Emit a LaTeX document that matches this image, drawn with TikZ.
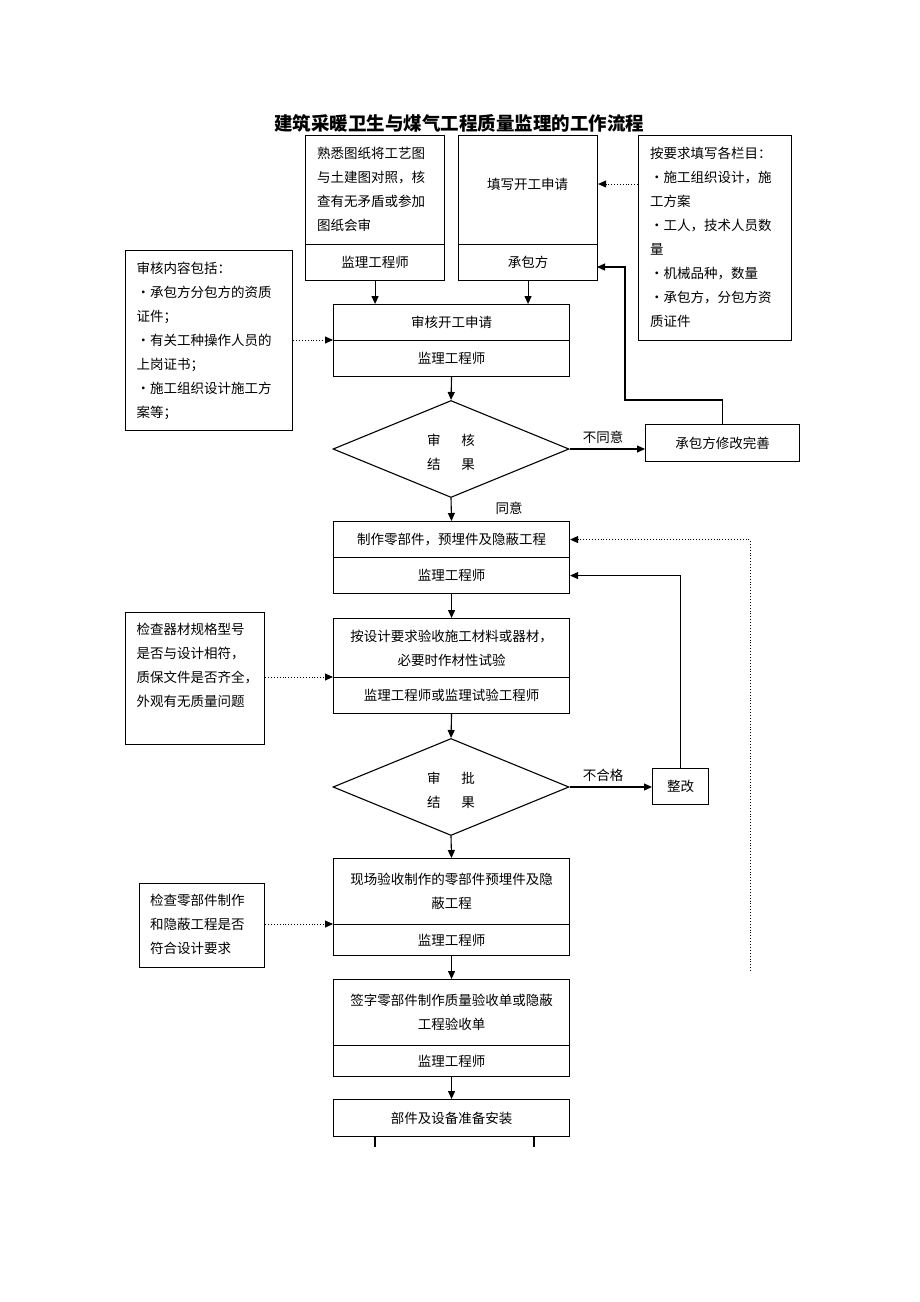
\documentclass[tikz,border=0pt]{standalone}
\usepackage{fontspec}
\newfontfamily\cjk{Noto Sans CJK SC}
\usetikzlibrary{arrows.meta,shapes.geometric}

\tikzset{
  box/.style={draw, line width=1.1pt, inner sep=0pt, anchor=north west, align=center,
    font=\cjk\fontsize{13.5}{24}\selectfont},
  txt/.style={inner sep=0pt, anchor=north west, align=left,
    font=\cjk\fontsize{13.5}{24}\selectfont},
  lbl/.style={inner sep=0pt, align=center, font=\cjk\fontsize{13.5}{24}\selectfont},
  judge/.style={draw, diamond, line width=1.1pt, inner sep=0pt,
    minimum width=236pt, minimum height=97pt},
  flow/.style={line width=1.1pt, -{Triangle[length=8pt,width=7pt]}},
  hint/.style={dotted, line width=0.9pt, -{Triangle[length=8pt,width=7pt]}}
}

\begin{document}
\begin{tikzpicture}[x=1pt,y=-1pt]

% 背景
\fill[white] (0,0) rectangle (920,1302);

% 标题
\node[font=\cjk\bfseries\fontsize{18.5}{20}\selectfont] (title) at (459,123) {建筑采暖卫生与煤气工程质量监理的工作流程};

% 上方三个框
\node[box, minimum width=139pt, minimum height=109pt] (fam) at (305,135) {};
\node[txt] (famTxt) at (317,147) {熟悉图纸将工艺图\\与土建图对照，核\\查有无矛盾或参加\\图纸会审};
\node[box, minimum width=139pt, minimum height=36pt] (famE) at (305,244) {监理工程师};

\node[box, minimum width=139pt, minimum height=109pt] (app) at (458,135) {};
\node[lbl] (appTxt) at (527.5,184) {填写开工申请};
\node[box, minimum width=139pt, minimum height=36pt] (appE) at (458,244) {承包方};

\node[box, minimum width=153pt, minimum height=205pt] (req) at (638,135) {};
\node[txt] (reqTxt) at (650,147) {按要求填写各栏目：\\•施工组织设计，施\\工方案\\•工人，技术人员数\\量\\•机械品种，数量\\•承包方，分包方资\\质证件};

% 审核开工申请
\node[box, minimum width=236pt, minimum height=36pt] (rev) at (333,304) {审核开工申请};
\node[box, minimum width=236pt, minimum height=36pt] (revE) at (333,340) {监理工程师};
\node[box, minimum width=167pt, minimum height=180pt] (revNote) at (125,250) {};
\node[txt] (revTxt) at (136.5,261.5) {审核内容包括：\\•承包方分包方的资质\\证件；\\•有关工种操作人员的\\上岗证书；\\•施工组织设计施工方\\案等；};

% 审核结果
\node[judge] (d1) at (451,449) {};
\node[lbl] (d1Txt) at (451,452) {审\hspace{21pt}核\\结\hspace{21pt}果};
\node[box, minimum width=154pt, minimum height=37pt] (fix1) at (645,424) {承包方修改完善};

% 制作及材料验收
\node[box, minimum width=236pt, minimum height=36pt] (make) at (333,521) {制作零部件，预埋件及隐蔽工程};
\node[box, minimum width=236pt, minimum height=36pt] (makeE) at (333,557) {监理工程师};

\node[box, minimum width=236pt, minimum height=59pt] (mat) at (333,618) {按设计要求验收施工材料或器材，\\必要时作材性试验};
\node[box, minimum width=236pt, minimum height=36pt] (matE) at (333,677) {监理工程师或监理试验工程师};
\node[box, minimum width=139pt, minimum height=132pt] (matNote) at (125,612) {};
\node[txt] (matTxt) at (136.5,623) {检查器材规格型号\\是否与设计相符，\\质保文件是否齐全，\\外观有无质量问题};

% 审批结果
\node[judge] (d2) at (451,787) {};
\node[lbl] (d2Txt) at (451,790) {审\hspace{21pt}批\\结\hspace{21pt}果};
\node[box, minimum width=56pt, minimum height=36pt] (fix2) at (652,768) {整改};

% 现场验收
\node[box, minimum width=236pt, minimum height=66pt] (site) at (333,858) {现场验收制作的零部件预埋件及隐\\蔽工程};
\node[box, minimum width=236pt, minimum height=31pt] (siteE) at (333,924) {监理工程师};
\node[box, minimum width=125pt, minimum height=84pt] (siteNote) at (139,883) {};
\node[txt] (siteTxt) at (150,894) {检查零部件制作\\和隐蔽工程是否\\符合设计要求};

% 签字及安装
\node[box, minimum width=236pt, minimum height=66pt] (sign) at (333,979) {签字零部件制作质量验收单或隐蔽\\工程验收单};
\node[box, minimum width=236pt, minimum height=31pt] (signE) at (333,1045) {监理工程师};
\node[box, minimum width=236pt, minimum height=37pt] (inst) at (333,1099) {部件及设备准备安装};

% 折线用的点
\coordinate (bend1) at (625,400);
\coordinate (backIn) at (597,267);
\coordinate (loopEnd) at (750,971);
\coordinate (leg1) at (375,1147);
\coordinate (leg2) at (534,1147);

% 连线
\draw[flow] (famE.south) -- (famE.south |- rev.north);
\draw[flow] (appE.south) -- (appE.south |- rev.north);
\draw[hint] (req.west |- appTxt) -- (app.east |- appTxt);
\draw[hint] (revNote.east |- revE.north) -- (revE.north west);
\draw[flow] (revE.south) -- (d1.north);
\draw[flow] (d1.east) -- (d1.east -| fix1.west);
\draw[flow] (fix1.north) |- (bend1) |- (backIn);
\draw[flow] (d1.south) -- (make.north);
\draw[hint] (loopEnd) |- (make.east);
\draw[flow] (makeE.south) -- (mat.north);
\draw[hint] (matNote.east |- matE.north) -- (matE.north west);
\draw[flow] (matE.south) -- (d2.north);
\draw[flow] (d2.east) -- (d2.east -| fix2.west);
\draw[flow] (fix2.north) |- (makeE.east);
\draw[flow] (d2.south) -- (site.north);
\draw[hint] (siteNote.east |- siteE.north) -- (siteE.north west);
\draw[flow] (siteE.south) -- (sign.north);
\draw[flow] (signE.south) -- (inst.north);
\draw[line width=1.1pt] (inst.south -| leg1) -- (leg1);
\draw[line width=1.1pt] (inst.south -| leg2) -- (leg2);

% 标签
\node[lbl] (noL) at (603,437) {不同意};
\node[lbl] (yesL) at (509,508) {同意};
\node[lbl] (failL) at (603,775) {不合格};

\end{tikzpicture}
\end{document}
